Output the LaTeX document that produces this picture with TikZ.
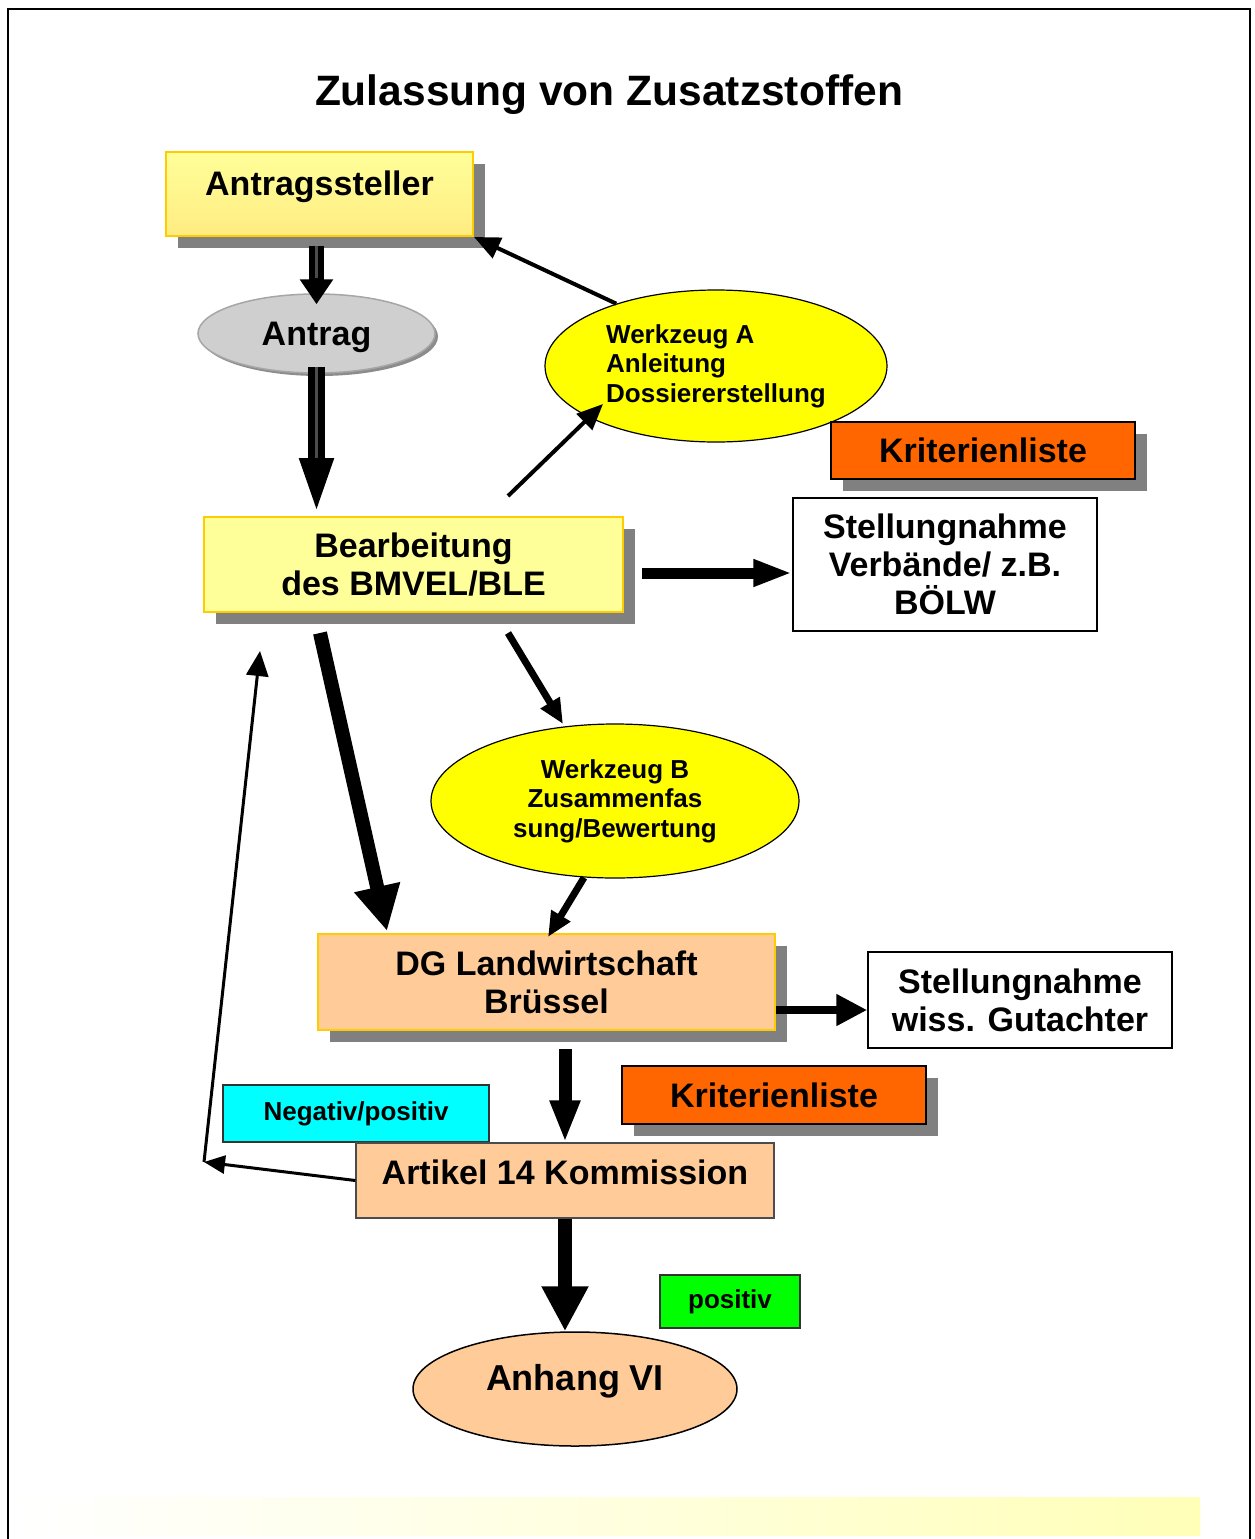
\documentclass[tikz,border=0pt]{standalone}
\usepackage{fontspec}
\setmainfont{Liberation Sans}
\usetikzlibrary{arrows.meta,shadows,shapes.geometric}
\definecolor{gold}{HTML}{FFCC00}
\definecolor{paleyellow}{HTML}{FFFF99}
\definecolor{peach}{HTML}{FFCC99}
\definecolor{critorange}{HTML}{FF6600}
\definecolor{shadowgray}{HTML}{808080}
\definecolor{toolyellow}{HTML}{FFFF00}
\definecolor{tagcyan}{HTML}{00FFFF}
\definecolor{taggreen}{HTML}{00FF00}
\definecolor{antraggray}{HTML}{CFCFCF}
\definecolor{stripyellow}{HTML}{FFFFB8}
\tikzset{every node/.style={inner sep=0pt, align=center},
  txt/.style={font=\fontsize{34}{38}\selectfont\bfseries},
  smalltxt/.style={font=\fontsize{26}{29.5}\selectfont\bfseries},
  boxshadow/.style={drop shadow={shadow xshift=12pt, shadow yshift=-12pt, fill=shadowgray, opacity=1}},
  goldbox/.style={txt, draw=gold, line width=2pt, boxshadow},
  critbox/.style={txt, draw=black, line width=1.5pt, fill=critorange, minimum width=304pt, minimum height=57pt, boxshadow},
  plainbox/.style={txt, draw=black, line width=1.5pt, fill=white, minimum width=304pt},
  tagbox/.style={smalltxt, draw=black!80, line width=1.2pt},
  tool/.style={ellipse, smalltxt, draw=black, line width=1.2pt, fill=toolyellow},
  pipe/.style={line width=15pt, -{Triangle[length=25pt,width=32pt]}},
  pipecore/.style={line width=3pt, draw=black!70, shorten >=26pt},
  fat/.style={line width=14pt, -{Triangle[length=45pt,width=44pt]}},
  mid/.style={line width=11pt, -{Triangle[length=39pt,width=25pt]}},
  short/.style={line width=8pt, -{Triangle[length=31pt,width=30pt]}},
  down/.style={line width=13pt, -{Triangle[length=42pt,width=28pt]}},
  slim/.style={line width=7pt, -{Triangle[length=25pt,width=21pt]}},
  hair/.style={line width=4pt, -{Triangle[length=26pt,width=22pt]}},
  back/.style={line width=3pt, -{Triangle[length=21pt,width=18pt]}}}
\begin{document}
\begin{tikzpicture}[x=1pt,y=-1pt]
  \useasboundingbox (0,0) rectangle (1255,1539);
  \shade[left color=white, right color=stripyellow, middle color=stripyellow!45] (10,1497) rectangle (1200,1535);
  \draw[line width=2pt] (8,1545) -- (8,9) -- (1250,9) -- (1250,1545);

  \node[font=\fontsize{42.5}{46}\selectfont\bfseries, anchor=base] (headline) at (609,105) {Zulassung von Zusatzstoffen};

  % upper part
  \node[goldbox, top color=paleyellow, bottom color=paleyellow!85!orange, minimum width=307pt, text height=43pt, text depth=41pt] (antr) at (319.5,194) {Antragssteller};
  \node[ellipse, txt, fill=antraggray, draw=black!35, line width=1.5pt, minimum width=237pt, minimum height=79pt, text height=24.5pt, text depth=0pt,
        drop shadow={shadow xshift=3pt, shadow yshift=-3pt, fill=black!45, opacity=1}] (antrag) at (316.5,333.5) {Antrag};
  \node[tool, align=left, minimum width=342pt, minimum height=152pt] (werkA) at (716,366) {Werkzeug A\\Anleitung\\Dossiererstellung};
  \node[critbox] (krit1) at (983,450.5) {Kriterienliste};
  \node[goldbox, fill=paleyellow, minimum width=419pt, minimum height=95pt] (bear) at (413.5,564.5) {Bearbeitung\\des BMVEL/BLE};
  \node[plainbox, minimum height=133pt] (stellV) at (945,564.5) {Stellungnahme\\Verbände/ z.B.\\BÖLW};

  % lower part
  \node[tool, minimum width=368pt, minimum height=154pt] (werkB) at (615,801) {Werkzeug B\\Zusammenfas\\sung/Bewertung};
  \node[goldbox, fill=peach, minimum width=457pt, minimum height=96pt] (dg) at (546.5,982) {DG Landwirtschaft\\Brüssel};
  \node[plainbox, minimum height=96pt] (stellW) at (1020,1000) {Stellungnahme\\wiss. Gutachter};
  \node[critbox, minimum height=58pt] (krit2) at (774,1095) {Kriterienliste};
  \node[tagbox, fill=tagcyan, minimum width=266pt, minimum height=57pt] (neg) at (356,1113.5) {Negativ/positiv};
  \node[txt, draw=black!70, line width=1.2pt, fill=peach, minimum width=418pt, text height=41.2pt, text depth=33.8pt] (art) at (565,1180.5) {Artikel 14 Kommission};
  \node[tagbox, fill=taggreen, minimum width=140pt, minimum height=53pt] (pos) at (730,1301.5) {positiv};
  \node[ellipse, font=\fontsize{36}{40}\selectfont\bfseries, draw=black, line width=1.5pt, fill=peach, minimum width=324pt, minimum height=114pt,
        text height=12pt, text depth=8.2pt] (anhang) at (575,1389) {Anhang VI};

  % connectors
  \draw[pipe] ([shift={(0,9)}]antr.south -| antrag.north) -- ([shift={(0,11)}]antrag.north);
  \draw[pipecore] ([shift={(0,9)}]antr.south -| antrag.north) -- ([shift={(0,11)}]antrag.north);
  \draw[pipe, line width=17pt, -{Triangle[length=58pt,width=30pt]}] ([shift={(0,-7)}]antrag.south) -- (antrag.south |- bear.north);
  \draw[pipecore, shorten >=58pt] ([shift={(0,-7)}]antrag.south) -- (antrag.south |- bear.north);
  \draw[hair] (werkA.148) -- (antr.south east);
  \draw[hair] ([shift={(94.5,-20)}]bear.north) -- ([shift={(-113,38)}]werkA.center);
  \draw[mid] ([shift={(18,8.5)}]bear.east) -- ([shift={(0,8.5)}]stellV.west);
  \draw[fat] ([shift={(-93.5,20)}]bear.south) -- ([shift={(70,-2)}]dg.north west);
  \draw[slim] ([shift={(94.5,20)}]bear.south) -- ([shift={(-52,-77)}]werkB.center);
  \draw[slim] ([shift={(-31,-1)}]werkB.south) -- ([shift={(1.5,4)}]dg.north);
  \draw[short] ([shift={(0,28)}]dg.east) -- ([shift={(0,28)}]dg.east -| stellW.west);
  \draw[down] ([shift={(0,18)}]dg.south -| art.north) -- (art.north);
  \coordinate (ret) at (204,1162);
  \draw[back] (art.west) -- (ret);
  \draw[back, -{Triangle[length=25pt,width=22pt]}] (ret) -- ([shift={(-153.5,38)}]bear.south);
  \draw[fat] (art.south) -- (art.south |- anhang.north);
\end{tikzpicture}
\end{document}
